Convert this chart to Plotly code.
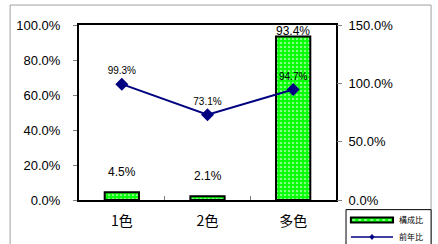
import plotly.graph_objects as go

categories = ["1色", "2色", "多色"]
share = [4.5, 2.1, 93.4]          # 構成比 (left axis)
yoy = [99.3, 73.1, 94.7]           # 前年比 (right axis)
share_labels = ["4.5%", "2.1%", "93.4%"]
yoy_labels = ["99.3%", "73.1%", "94.7%"]

FONT = "Liberation Sans, Arial, Noto Sans CJK JP, sans-serif"

fig = go.Figure()
fig.add_trace(go.Bar(
    x=categories, y=share, name="構成比",
    marker=dict(color="#00FF00", line=dict(color="#000000", width=2),
                pattern=dict(shape=".", fgcolor="#FFFFFF", bgcolor="#00FF00",
                             size=4, solidity=0.35, fillmode="overlay")),
    width=0.4, yaxis="y", showlegend=False,
))
fig.add_trace(go.Scatter(
    x=categories, y=yoy, name="前年比", mode="lines+markers+text",
    text=yoy_labels, textposition="top center", cliponaxis=False,
    textfont=dict(size=10, color="#000000", family=FONT),
    line=dict(color="#000080", width=2),
    marker=dict(symbol="diamond", size=10, color="#000080"),
    yaxis="y2", showlegend=False,
))

# bar value labels (Excel-style, placed above bars, kept inside the frame)
annotations = []
for c, v, t in zip(categories, share, share_labels):
    annotations.append(dict(x=c, y=min(v + 11.6, 96.6), xref="x", yref="y",
                            text=t, showarrow=False, yanchor="middle",
                            font=dict(size=12, color="#000000", family=FONT)))

# legend box (drawn manually to mimic Excel legend)
LX0, LX1, LY0, LY1 = 1.039, 1.37, -0.055, -0.30
R1, R2 = -0.114, -0.211
annotations += [
    dict(x=1.238, y=R1, xref="paper", yref="paper", text="構成比",
         showarrow=False, xanchor="left", yanchor="middle",
         font=dict(size=8, family="Noto Sans CJK JP", color="#000000")),
    dict(x=1.238, y=R2, xref="paper", yref="paper", text="前年比",
         showarrow=False, xanchor="left", yanchor="middle",
         font=dict(size=8, family="Noto Sans CJK JP", color="#000000")),
]
shapes = [
    dict(type="rect", xref="paper", yref="paper",
         x0=-0.268, x1=1.37, y0=-0.4, y1=1.114,
         line=dict(color="#A0A0A0", width=1), layer="below"),
    dict(type="rect", xref="paper", yref="paper",
         x0=LX0, x1=LX1, y0=LY1, y1=LY0,
         line=dict(color="#000000", width=1), fillcolor="white", layer="above"),
    dict(type="rect", xref="paper", yref="paper",
         x0=1.058, x1=1.222, y0=R1 - 0.014, y1=R1 + 0.014,
         line=dict(color="#000000", width=2), fillcolor="#00FF00", layer="above"),
    dict(type="line", xref="paper", yref="paper",
         x0=1.063, x1=1.217, y0=R1, y1=R1,
         line=dict(color="#FFFFFF", width=1, dash="dot"), layer="above"),
    dict(type="line", xref="paper", yref="paper",
         x0=1.058, x1=1.222, y0=R2, y1=R2,
         line=dict(color="#000080", width=1.5), layer="above"),
    dict(type="path", xref="paper", yref="paper",
         path=f"M 1.132,{R2} L 1.14,{R2 + 0.014} L 1.148,{R2} L 1.14,{R2 - 0.014} Z",
         line=dict(color="#000080", width=1), fillcolor="#000080", layer="above"),
]

fig.update_layout(
    width=438, height=244,
    margin=dict(l=79, r=102, t=25, b=44, autoexpand=False),
    paper_bgcolor="white", plot_bgcolor="white",
    font=dict(family=FONT, size=13, color="#000000"),
    showlegend=False,
    xaxis=dict(showline=True, linecolor="#000000", linewidth=2, mirror=True,
               ticks="inside", ticklen=4, tickcolor="#808080",
               tickson="boundaries", showgrid=False, ticklabelstandoff=7,
               tickfont=dict(size=14, family="Noto Sans CJK JP")),
    yaxis=dict(range=[0, 100], dtick=20, tickformat=".1f", ticksuffix="%",
               showline=True, linecolor="#000000", linewidth=2, mirror=True,
               ticks="outside", ticklen=4, tickcolor="#808080",
               showgrid=False, zeroline=False, ticklabelstandoff=10,
               tickfont=dict(size=13)),
    yaxis2=dict(range=[0, 150], dtick=50, tickformat=".1f", ticksuffix="%",
                overlaying="y", side="right", showgrid=False, zeroline=False,
                ticks="outside", ticklen=5, tickcolor="#808080",
                ticklabelstandoff=4, tickfont=dict(size=13)),
    annotations=annotations,
    shapes=shapes,
)

fig.write_html("out.html", config={"displayModeBar": False},
               post_script="document.body.style.margin='0';"
                           "document.body.style.overflow='hidden';")
